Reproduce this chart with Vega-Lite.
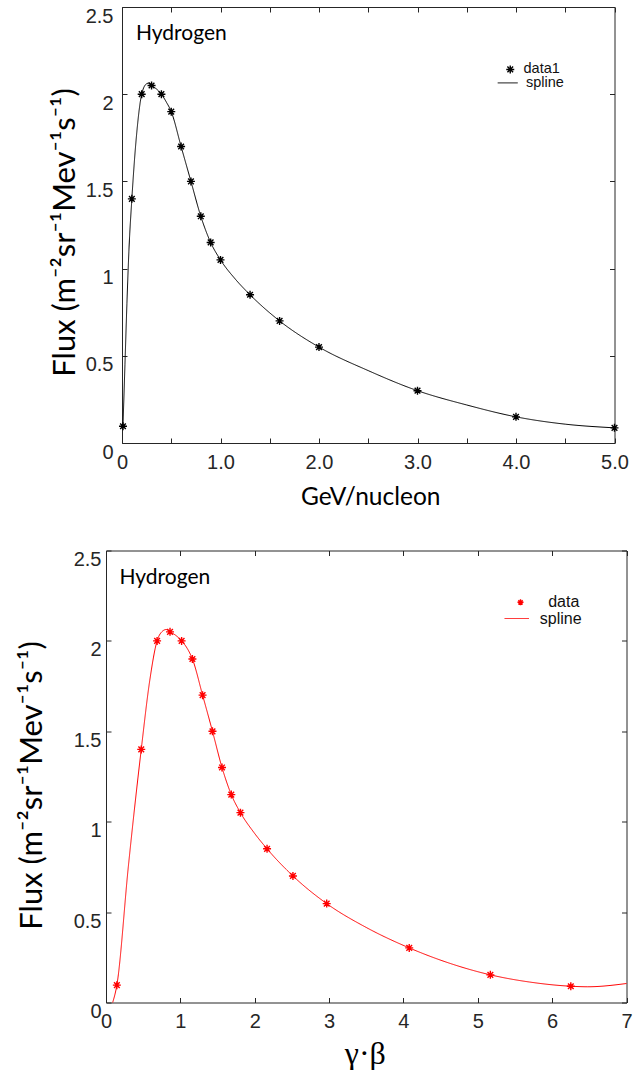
{
  "$schema": "https://vega.github.io/schema/vega-lite/v6.json",
  "padding": {"left": 0, "top": 6, "right": 0, "bottom": 0},
  "background": "white",
  "datasets": {
    "h_data": [
      {"x": 0.01, "y": 0.096, "series": "data1"},
      {"x": 0.1, "y": 1.4, "series": "data1"},
      {"x": 0.2, "y": 2.0, "series": "data1"},
      {"x": 0.3, "y": 2.05, "series": "data1"},
      {"x": 0.4, "y": 2.0, "series": "data1"},
      {"x": 0.5, "y": 1.9, "series": "data1"},
      {"x": 0.6, "y": 1.7, "series": "data1"},
      {"x": 0.7, "y": 1.5, "series": "data1"},
      {"x": 0.8, "y": 1.3, "series": "data1"},
      {"x": 0.9, "y": 1.15, "series": "data1"},
      {"x": 1.0, "y": 1.05, "series": "data1"},
      {"x": 1.3, "y": 0.85, "series": "data1"},
      {"x": 1.6, "y": 0.7, "series": "data1"},
      {"x": 2.0, "y": 0.55, "series": "data1"},
      {"x": 3.0, "y": 0.3, "series": "data1"},
      {"x": 4.0, "y": 0.15, "series": "data1"},
      {"x": 5.0, "y": 0.087, "series": "data1"}
    ],
    "h_spline": [
      {"x": 0.01, "y": 0.096, "series": "spline"},
      {"x": 0.03, "y": 0.45, "series": "spline"},
      {"x": 0.05, "y": 0.8, "series": "spline"},
      {"x": 0.07, "y": 1.1, "series": "spline"},
      {"x": 0.1, "y": 1.4, "series": "spline"},
      {"x": 0.15, "y": 1.78, "series": "spline"},
      {"x": 0.2, "y": 2.0, "series": "spline"},
      {"x": 0.25, "y": 2.06, "series": "spline"},
      {"x": 0.28, "y": 2.065, "series": "spline"},
      {"x": 0.3, "y": 2.05, "series": "spline"},
      {"x": 0.35, "y": 2.03, "series": "spline"},
      {"x": 0.4, "y": 2.0, "series": "spline"},
      {"x": 0.45, "y": 1.955, "series": "spline"},
      {"x": 0.5, "y": 1.9, "series": "spline"},
      {"x": 0.6, "y": 1.7, "series": "spline"},
      {"x": 0.7, "y": 1.5, "series": "spline"},
      {"x": 0.8, "y": 1.3, "series": "spline"},
      {"x": 0.9, "y": 1.15, "series": "spline"},
      {"x": 1.0, "y": 1.05, "series": "spline"},
      {"x": 1.15, "y": 0.94, "series": "spline"},
      {"x": 1.3, "y": 0.85, "series": "spline"},
      {"x": 1.6, "y": 0.7, "series": "spline"},
      {"x": 2.0, "y": 0.55, "series": "spline"},
      {"x": 2.5, "y": 0.415, "series": "spline"},
      {"x": 3.0, "y": 0.3, "series": "spline"},
      {"x": 3.5, "y": 0.218, "series": "spline"},
      {"x": 4.0, "y": 0.15, "series": "spline"},
      {"x": 4.5, "y": 0.108, "series": "spline"},
      {"x": 5.0, "y": 0.087, "series": "spline"}
    ],
    "g_data": [
      {"x": 0.146, "y": 0.096, "series": "data"},
      {"x": 0.474, "y": 1.4, "series": "data"},
      {"x": 0.687, "y": 2.0, "series": "data"},
      {"x": 0.861, "y": 2.05, "series": "data"},
      {"x": 1.017, "y": 2.0, "series": "data"},
      {"x": 1.162, "y": 1.9, "series": "data"},
      {"x": 1.299, "y": 1.7, "series": "data"},
      {"x": 1.432, "y": 1.5, "series": "data"},
      {"x": 1.56, "y": 1.3, "series": "data"},
      {"x": 1.685, "y": 1.15, "series": "data"},
      {"x": 1.808, "y": 1.05, "series": "data"},
      {"x": 2.166, "y": 0.85, "series": "data"},
      {"x": 2.514, "y": 0.7, "series": "data"},
      {"x": 2.968, "y": 0.547, "series": "data"},
      {"x": 4.078, "y": 0.302, "series": "data"},
      {"x": 5.169, "y": 0.153, "series": "data"},
      {"x": 6.251, "y": 0.09, "series": "data"}
    ],
    "g_spline": [
      {"x": 0.09, "y": 0.0, "series": "spline"},
      {"x": 0.146, "y": 0.096, "series": "spline"},
      {"x": 0.3, "y": 0.75, "series": "spline"},
      {"x": 0.474, "y": 1.4, "series": "spline"},
      {"x": 0.588, "y": 1.78, "series": "spline"},
      {"x": 0.687, "y": 2.0, "series": "spline"},
      {"x": 0.75, "y": 2.05, "series": "spline"},
      {"x": 0.81, "y": 2.063, "series": "spline"},
      {"x": 0.861, "y": 2.05, "series": "spline"},
      {"x": 0.94, "y": 2.03, "series": "spline"},
      {"x": 1.017, "y": 2.0, "series": "spline"},
      {"x": 1.09, "y": 1.96, "series": "spline"},
      {"x": 1.162, "y": 1.9, "series": "spline"},
      {"x": 1.299, "y": 1.7, "series": "spline"},
      {"x": 1.432, "y": 1.5, "series": "spline"},
      {"x": 1.56, "y": 1.3, "series": "spline"},
      {"x": 1.685, "y": 1.15, "series": "spline"},
      {"x": 1.808, "y": 1.05, "series": "spline"},
      {"x": 1.99, "y": 0.94, "series": "spline"},
      {"x": 2.166, "y": 0.85, "series": "spline"},
      {"x": 2.514, "y": 0.7, "series": "spline"},
      {"x": 2.968, "y": 0.547, "series": "spline"},
      {"x": 3.5, "y": 0.415, "series": "spline"},
      {"x": 4.078, "y": 0.302, "series": "spline"},
      {"x": 4.6, "y": 0.22, "series": "spline"},
      {"x": 5.169, "y": 0.153, "series": "spline"},
      {"x": 5.7, "y": 0.113, "series": "spline"},
      {"x": 6.251, "y": 0.09, "series": "spline"},
      {"x": 6.48, "y": 0.087, "series": "spline"},
      {"x": 7.0, "y": 0.105, "series": "spline"}
    ]
  },
  "vconcat": [
    {
      "hconcat": [
        {
          "width": 48.8,
          "height": 10,
          "data": {"values": [{"a": 1}]},
          "mark": {"type": "point", "opacity": 0, "size": 0}
        },
        {
          "width": 492.5,
          "height": 436,
          "title": {"text": "Hydrogen", "anchor": "start", "frame": "group", "orient": "top", "offset": 0, "baseline": "alphabetic", "dx": 14, "dy": 55, "font": "Lato", "fontSize": 21, "fontWeight": "normal", "color": "#000000"},
          "layer": [
            {
              "layer": [
                {
                  "data": {"name": "h_spline"},
                  "mark": {"type": "line", "color": "#000000", "strokeWidth": 1, "interpolate": "monotone"},
                  "encoding": {
                    "x": {"field": "x", "type": "quantitative", "scale": {"domain": [0, 5], "nice": false, "zero": false},
                      "axis": {"values": [0, 0.5, 1, 1.5, 2, 2.5, 3, 3.5, 4, 4.5, 5], "labelExpr": "datum.value == 0 ? '0' : (datum.value % 1 == 0 ? format(datum.value, '.1f') : '')", "labelPadding": 14, "title": "GeV/nucleon", "titleX": 248.2, "titleY": 54.5, "titleAlign": "center", "titleBaseline": "middle", "titleFontSize": 24.5}},
                    "y": {"field": "y", "type": "quantitative", "scale": {"domain": [0, 2.5], "nice": false, "zero": false},
                      "axis": {"values": [0, 0.5, 1, 1.5, 2, 2.5], "labelExpr": "format(datum.value, '~g')", "labelOffset": 9, "labelPadding": 14, "title": "Flux (m⁻²sr⁻¹Mev⁻¹s⁻¹)", "titleX": -56.3, "titleY": 225, "titleAlign": "center", "titleBaseline": "middle", "titleFontSize": 31}},
                    "strokeDash": {"field": "series", "type": "nominal", "scale": {"domain": ["spline"], "range": [[1, 0]]},
                      "legend": {"title": null, "orient": "none", "legendX": 375.2, "legendY": 65.4, "symbolType": "stroke", "symbolSize": 400, "symbolStrokeColor": "#000000", "symbolStrokeWidth": 1, "labelFontSize": 14.5, "labelOffset": 7.7, "padding": 0}}
                  }
                },
                {
                  "data": {"name": "h_data"},
                  "mark": {"type": "point", "filled": false, "color": "#000000", "strokeWidth": 1.4, "size": 64, "opacity": 1},
                  "encoding": {
                    "x": {"field": "x", "type": "quantitative"},
                    "y": {"field": "y", "type": "quantitative"},
                    "shape": {"field": "series", "type": "nominal", "scale": {"domain": ["data1"], "range": ["M-1,0L1,0M0,-1L0,1M-0.71,-0.71L0.71,0.71M-0.71,0.71L0.71,-0.71"]},
                      "legend": {"title": null, "orient": "none", "legendX": 381, "legendY": 55.2, "symbolSize": 64, "symbolStrokeColor": "#000000", "symbolFillColor": "transparent", "symbolStrokeWidth": 1.4, "labelFontSize": 14.5, "labelOffset": 6, "padding": 0}}
                  }
                }
              ]
            },
            {
              "data": {"name": "h_data"},
              "mark": {"type": "point", "opacity": 0, "size": 0},
              "encoding": {
                "x": {"field": "x", "type": "quantitative", "scale": {"domain": [0, 5], "nice": false, "zero": false},
                  "axis": {"orient": "top", "labels": false, "title": null, "values": [0, 0.5, 1, 1.5, 2, 2.5, 3, 3.5, 4, 4.5, 5]}},
                "y": {"field": "y", "type": "quantitative", "scale": {"domain": [0, 2.5], "nice": false, "zero": false},
                  "axis": {"orient": "right", "labels": false, "title": null, "values": [0, 0.5, 1, 1.5, 2, 2.5]}}
              }
            }
          ],
          "resolve": {"scale": {"x": "independent", "y": "independent"}}
        }
      ],
      "spacing": 0,
      "resolve": {"scale": {"shape": "independent", "strokeDash": "independent"}, "legend": {"shape": "independent", "strokeDash": "independent"}}
    },
    {
      "hconcat": [
        {
          "width": 16,
          "height": 10,
          "data": {"values": [{"a": 1}]},
          "mark": {"type": "point", "opacity": 0, "size": 0}
        },
        {
          "width": 520.5,
          "height": 452,
          "title": {"text": "Hydrogen", "anchor": "start", "frame": "group", "orient": "top", "offset": 0, "baseline": "alphabetic", "dx": 13.5, "dy": 55, "font": "Lato", "fontSize": 21, "fontWeight": "normal", "color": "#000000"},
          "layer": [
            {
              "layer": [
                {
                  "data": {"name": "g_spline"},
                  "mark": {"type": "line", "color": "#ff0000", "strokeWidth": 1, "interpolate": "monotone"},
                  "encoding": {
                    "x": {"field": "x", "type": "quantitative", "scale": {"domain": [0, 7], "nice": false, "zero": false},
                      "axis": {"values": [0, 1, 2, 3, 4, 5, 6, 7], "format": "d", "labelPadding": 14, "title": "γ·β", "titleFont": "Liberation Serif", "titleX": 258.8, "titleY": 50.7, "titleAlign": "center", "titleBaseline": "middle", "titleFontSize": 32}},
                    "y": {"field": "y", "type": "quantitative", "scale": {"domain": [0, 2.5], "nice": false, "zero": false},
                      "axis": {"values": [0, 0.5, 1, 1.5, 2, 2.5], "labelExpr": "format(datum.value, '~g')", "labelOffset": 9, "labelPadding": 10, "title": "Flux (m⁻²sr⁻¹Mev⁻¹s⁻¹)", "titleX": -73.5, "titleY": 234.5, "titleAlign": "center", "titleBaseline": "middle", "titleFontSize": 31}},
                    "strokeDash": {"field": "series", "type": "nominal", "scale": {"domain": ["spline"], "range": [[1, 0]]},
                      "legend": {"title": null, "orient": "none", "legendX": 397.8, "legendY": 55, "symbolType": "stroke", "symbolSize": 595, "symbolStrokeColor": "#ff0000", "symbolStrokeWidth": 1, "labelFontSize": 16, "labelOffset": 10, "padding": 0}}
                  }
                },
                {
                  "data": {"name": "g_data"},
                  "mark": {"type": "point", "filled": false, "color": "#ff0000", "strokeWidth": 1.4, "size": 64, "opacity": 1},
                  "encoding": {
                    "x": {"field": "x", "type": "quantitative"},
                    "y": {"field": "y", "type": "quantitative"},
                    "shape": {"field": "series", "type": "nominal", "scale": {"domain": ["data"], "range": ["M-1,0L1,0M0,-1L0,1M-0.71,-0.71L0.71,0.71M-0.71,0.71L0.71,-0.71"]},
                      "legend": {"title": null, "orient": "none", "legendX": 406.5, "legendY": 43.8, "symbolSize": 36, "symbolStrokeColor": "#ff0000", "symbolFillColor": "transparent", "symbolStrokeWidth": 1.4, "labelFontSize": 16, "labelOffset": 19.7, "padding": 0}}
                  }
                }
              ]
            },
            {
              "data": {"name": "g_data"},
              "mark": {"type": "point", "opacity": 0, "size": 0},
              "encoding": {
                "x": {"field": "x", "type": "quantitative", "scale": {"domain": [0, 7], "nice": false, "zero": false},
                  "axis": {"orient": "top", "labels": false, "title": null, "values": [0, 1, 2, 3, 4, 5, 6, 7]}},
                "y": {"field": "y", "type": "quantitative", "scale": {"domain": [0, 2.5], "nice": false, "zero": false},
                  "axis": {"orient": "right", "labels": false, "title": null, "values": [0, 0.5, 1, 1.5, 2, 2.5]}}
              }
            }
          ],
          "resolve": {"scale": {"x": "independent", "y": "independent"}}
        }
      ],
      "spacing": 0,
      "resolve": {"scale": {"shape": "independent", "strokeDash": "independent"}, "legend": {"shape": "independent", "strokeDash": "independent"}}
    }
  ],
  "spacing": 40.5,
  "resolve": {"scale": {"shape": "independent", "strokeDash": "independent"}, "legend": {"shape": "independent", "strokeDash": "independent"}},
  "config": {
    "view": {"stroke": null},
    "axis": {
      "grid": false,
      "domainColor": "#262626",
      "domainWidth": 1,
      "tickColor": "#262626",
      "tickSize": -5,
      "tickWidth": 1,
      "labelColor": "#262626",
      "labelFont": "Liberation Sans",
      "labelFontSize": 20,
      "labelOverlap": false,
      "labelFlush": false,
      "labelBound": false,
      "titleColor": "#000000",
      "titleFont": "Lato",
      "titleFontWeight": "normal"
    },
    "legend": {
      "labelFont": "Liberation Sans",
      "labelColor": "#111111",
      "padding": 0,
      "rowPadding": 0
    }
  }
}
